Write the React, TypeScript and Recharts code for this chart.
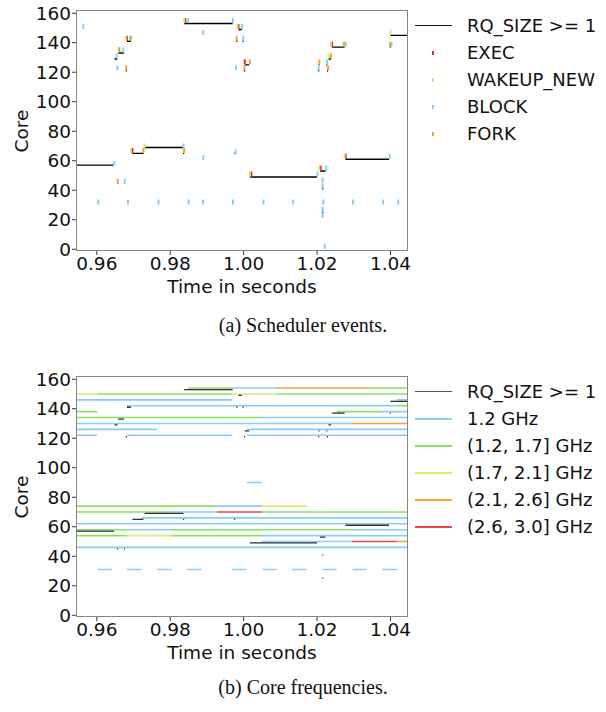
import { ComposedChart, Line, Scatter, XAxis, YAxis } from 'recharts';

// axis setup
const xDomain = [0.9546, 1.0445];
const yDomain = [-0.5, 161.5];
const xTicks = [0.96, 0.98, 1.0, 1.02, 1.04];
const yTicks = [0, 20, 40, 60, 80, 100, 120, 140, 160];

// RQ_SIZE >= 1 intervals: [start, end, core]
const rqSpans: [number, number, number][] = [
  [0.9546, 0.9647, 57], [0.9648, 0.9656, 129], [0.9658, 0.9674, 133], [0.9682, 0.9693, 141],
  [0.9697, 0.9727, 65], [0.973, 0.9836, 69], [0.9838, 0.997, 153], [0.9986, 0.9995, 149],
  [1.0003, 1.0015, 125], [1.0017, 1.02, 49], [1.0208, 1.0223, 53], [1.0231, 1.0238, 129],
  [1.0241, 1.0275, 137], [1.0277, 1.0396, 61], [1.04, 1.0445, 145],
  [0.9655, 0.9658, 45], [0.9674, 0.9677, 45], [0.9679, 0.9682, 121], [0.9974, 0.9977, 65],
  [0.998, 0.9983, 141], [0.9997, 1.0, 141], [1.0001, 1.0004, 121], [1.0204, 1.0207, 125],
  [1.0225, 1.0228, 125], [1.0203, 1.0206, 121], [1.0227, 1.023, 121], [1.0214, 1.0217, 41],
  [1.0398, 1.0401, 137], [0.9835, 0.9838, 65], [1.0214, 1.0217, 25],
];

// scheduler events: [time, core]
const execEvents: [number, number][] = [
  [0.9661, 135], [0.9682, 143], [0.9697, 67], [0.9841, 155], [0.9986, 151],
  [1.0003, 127], [1.0021, 51], [1.021, 55], [1.0241, 139], [1.0278, 63],
];
const wakeupEvents: [number, number][] = [
  [0.9659, 135], [0.9679, 143], [0.9693, 67], [0.973, 70], [0.9838, 155], [0.9983, 151],
  [1.0017, 51], [1.0206, 55], [1.0231, 131], [1.0238, 139], [1.0275, 63], [1.04, 147],
];
const blockEvents: [number, number][] = [
  [0.9563, 151], [0.9604, 32], [0.9685, 32], [0.9768, 32], [0.985, 32], [0.9889, 32],
  [0.9971, 32], [1.0054, 32], [1.0135, 32], [1.0217, 32], [1.0298, 32], [1.038, 32], [1.0421, 32],
  [0.9647, 58], [0.9654, 131], [0.9656, 123], [0.9672, 135], [0.9691, 143], [0.9676, 46],
  [0.9836, 70], [0.9848, 155], [0.9971, 155], [0.989, 147], [0.989, 62], [0.9979, 123],
  [0.9978, 66], [0.9996, 151], [0.9999, 143], [1.0227, 127], [1.0204, 123], [1.0278, 139],
  [1.0403, 139], [1.0201, 51], [1.0225, 55], [1.0215, 47], [1.0215, 43], [1.0215, 27],
  [1.0215, 23], [1.0221, 2], [1.0398, 63],
];
const forkEvents: [number, number][] = [
  [0.9693, 143], [0.968, 123], [0.9657, 46], [0.9727, 67], [0.9838, 67], [0.9981, 143],
  [1.0017, 127], [1.0002, 123], [1.0206, 127], [1.023, 123], [1.0238, 131], [1.0273, 139],
  [1.0399, 139],
];

// core frequency intervals: [start, end, core]
const freq12: [number, number, number][] = [
  [0.9968, 1.009, 154], [0.9546, 0.9968, 146], [1.0417, 1.0445, 146], [0.9682, 1.0417, 142],
  [1.0371, 1.0445, 138], [1.005, 1.0445, 134], [0.9546, 1.0295, 130], [0.9546, 0.9764, 126],
  [1.0009, 1.0445, 126], [0.9546, 0.9601, 122], [0.9682, 0.9968, 122], [1.0009, 1.0445, 122],
  [1.0009, 1.005, 90], [0.9927, 1.005, 74], [0.9805, 0.9927, 70], [0.9723, 1.0445, 66],
  [0.9546, 1.0445, 62], [0.9682, 0.9805, 58], [1.0298, 1.0445, 58], [1.005, 1.0445, 54],
  [1.005, 1.0295, 50], [0.9546, 1.0445, 46],
  [0.9603, 0.9641, 31], [0.9682, 0.9722, 31], [0.9763, 0.9804, 31], [0.9846, 0.9885, 31],
  [0.9969, 1.0008, 31], [1.0052, 1.009, 31], [1.0132, 1.0171, 31], [1.0215, 1.0253, 31],
  [1.0297, 1.0335, 31], [1.0378, 1.0418, 31],
];
const freq17: [number, number, number][] = [
  [0.9849, 0.9968, 154], [1.0336, 1.0445, 154], [0.9601, 0.9968, 150], [1.009, 1.0445, 150],
  [1.0417, 1.0445, 142], [0.9546, 0.9601, 138], [1.0254, 1.0371, 138], [0.9546, 1.005, 134],
  [0.9546, 0.9927, 74], [0.9546, 0.9805, 70], [1.005, 1.0445, 70], [0.9546, 0.9682, 58],
  [0.9805, 1.0298, 58], [0.9546, 0.9682, 54], [0.9805, 1.005, 54],
];
const freq21: [number, number, number][] = [
  [0.9546, 0.9601, 150], [0.9968, 1.009, 150], [1.005, 1.0172, 74], [0.9682, 0.9805, 54],
];
const freq26: [number, number, number][] = [
  [1.009, 1.0336, 154], [1.0295, 1.0445, 130], [1.0417, 1.0445, 50],
];
const freq30: [number, number, number][] = [
  [0.9927, 1.005, 70], [1.0295, 1.0417, 50],
];

const C = {
  rq: '#000000',
  rqDim: '#2a2f33',
  exec: '#e0282e',
  wakeup: '#d8e464',
  block: '#87cefa',
  fork: '#eea638',
  f12: '#87cefa',
  f17: '#8ae262',
  f21: '#e0ea6c',
  f26: '#eea638',
  f30: '#ee4646',
};

const FONT = 'DejaVu Sans, sans-serif';
const FS = 18.5;
const axisTick = { fontSize: FS, fill: '#111', fontFamily: FONT };

// spans -> one path with null breaks
const toPath = (spans: [number, number, number][]) =>
  spans.flatMap(([s, e, c]) => [{ x: s, y: c }, { x: e, y: c }, { x: e, y: null }]);
const toPoints = (ev: [number, number][]) => ev.map(([x, y]) => ({ x, y }));

const tick = (color: string) => (p: any) =>
  <rect x={p.cx - 1} y={p.cy - 2.5} width={2} height={5} fill={color} />;

const frame = (top: number) => (
  <div style={{
    position: 'absolute', left: 76, top: top - 1, width: 332, height: 241,
    border: '1.5px solid #858585', boxSizing: 'border-box', pointerEvents: 'none',
  }} />
);

const txt = (s: string, x: number, y: number, extra: any = {}) => (
  <div style={{
    position: 'absolute', left: x, top: y, transform: 'translate(-50%, -50%)',
    fontFamily: FONT, fontSize: FS, color: '#111', whiteSpace: 'nowrap', lineHeight: 1, ...extra,
  }}>{s}</div>
);

type LegendItem = { label: string; color: string; kind: 'line' | 'tick'; width?: number };

const legend = (items: LegendItem[], top: number) => (
  <div>
    {items.map((it, i) => {
      const y = top + i * 27;
      return (
        <div key={it.label}>
          {it.kind === 'line'
            ? <div style={{ position: 'absolute', left: 415, top: y - 1, width: 37, height: it.width ?? 1.5, background: it.color }} />
            : <div style={{ position: 'absolute', left: 432, top: y - 2, width: 2, height: 4, background: it.color }} />}
          <div style={{
            position: 'absolute', left: 467, top: y - 10, fontFamily: FONT, fontSize: 18,
            lineHeight: '20px', color: '#111', whiteSpace: 'nowrap',
          }}>{it.label}</div>
        </div>
      );
    })}
  </div>
);

const eventLegend: LegendItem[] = [
  { label: 'RQ_SIZE >= 1', color: '#1a1a1a', kind: 'line', width: 1.2 },
  { label: 'EXEC', color: C.exec, kind: 'tick' },
  { label: 'WAKEUP_NEW', color: C.wakeup, kind: 'tick' },
  { label: 'BLOCK', color: C.block, kind: 'tick' },
  { label: 'FORK', color: C.fork, kind: 'tick' },
];

const freqLegend: LegendItem[] = [
  { label: 'RQ_SIZE >= 1', color: '#555', kind: 'line', width: 1.2 },
  { label: '1.2 GHz', color: C.f12, kind: 'line' },
  { label: '(1.2, 1.7] GHz', color: C.f17, kind: 'line' },
  { label: '(1.7, 2.1] GHz', color: C.f21, kind: 'line' },
  { label: '(2.1, 2.6] GHz', color: C.f26, kind: 'line' },
  { label: '(2.6, 3.0] GHz', color: C.f30, kind: 'line' },
];

const chartMargin = { top: 11, right: 199, bottom: 20, left: 7 };

export default function App() {
  return (
    <div style={{ position: 'absolute', left: 0, top: 0, width: 606, height: 712, background: '#fff' }}>
      {/* (a) scheduler events */}
      <div style={{ position: 'absolute', left: 0, top: 0 }}>
        <ComposedChart width={606} height={300} margin={chartMargin}>
          <XAxis type="number" dataKey="x" domain={xDomain} allowDataOverflow ticks={xTicks}
            tickFormatter={(v: number) => v.toFixed(2)} tick={axisTick} tickSize={5} tickMargin={2}
            height={30} axisLine={false} tickLine={{ stroke: '#333' }} interval={0} />
          <YAxis type="number" dataKey="y" domain={yDomain} allowDataOverflow ticks={yTicks}
            tick={axisTick} tickSize={5} tickMargin={1} width={70} axisLine={false}
            tickLine={{ stroke: '#333' }} interval={0} />
          <Line data={toPath(rqSpans)} dataKey="y" stroke={C.rq} strokeWidth={1.4} dot={false}
            connectNulls={false} isAnimationActive={false} />
          <Scatter data={toPoints(execEvents)} fill={C.exec} shape={tick(C.exec)} isAnimationActive={false} />
          <Scatter data={toPoints(wakeupEvents)} fill={C.wakeup} shape={tick(C.wakeup)} isAnimationActive={false} />
          <Scatter data={toPoints(blockEvents)} fill={C.block} shape={tick(C.block)} isAnimationActive={false} />
          <Scatter data={toPoints(forkEvents)} fill={C.fork} shape={tick(C.fork)} isAnimationActive={false} />
        </ComposedChart>
      </div>
      {frame(11)}
      {legend(eventLegend, 26)}
      {txt('Core', 22, 131, { transform: 'translate(-50%, -50%) rotate(-90deg)' })}
      {txt('Time in seconds', 242, 287)}
      {txt('(a) Scheduler events.', 303, 325, { fontFamily: 'Liberation Serif, serif', fontSize: 20 })}

      {/* (b) core frequencies */}
      <div style={{ position: 'absolute', left: 0, top: 366 }}>
        <ComposedChart width={606} height={300} margin={chartMargin}>
          <XAxis type="number" dataKey="x" domain={xDomain} allowDataOverflow ticks={xTicks}
            tickFormatter={(v: number) => v.toFixed(2)} tick={axisTick} tickSize={5} tickMargin={2}
            height={30} axisLine={false} tickLine={{ stroke: '#333' }} interval={0} />
          <YAxis type="number" dataKey="y" domain={yDomain} allowDataOverflow ticks={yTicks}
            tick={axisTick} tickSize={5} tickMargin={1} width={70} axisLine={false}
            tickLine={{ stroke: '#333' }} interval={0} />
          <Line data={toPath(freq12)} dataKey="y" stroke={C.f12} strokeWidth={1.6} dot={false} connectNulls={false} isAnimationActive={false} />
          <Line data={toPath(freq17)} dataKey="y" stroke={C.f17} strokeWidth={1.6} dot={false} connectNulls={false} isAnimationActive={false} />
          <Line data={toPath(freq21)} dataKey="y" stroke={C.f21} strokeWidth={1.6} dot={false} connectNulls={false} isAnimationActive={false} />
          <Line data={toPath(freq26)} dataKey="y" stroke={C.f26} strokeWidth={1.6} dot={false} connectNulls={false} isAnimationActive={false} />
          <Line data={toPath(freq30)} dataKey="y" stroke={C.f30} strokeWidth={1.6} dot={false} connectNulls={false} isAnimationActive={false} />
          <Line data={toPath(rqSpans)} dataKey="y" stroke={C.rqDim} strokeWidth={1.3} dot={false}
            connectNulls={false} isAnimationActive={false} />
        </ComposedChart>
      </div>
      {frame(377)}
      {legend(freqLegend, 392)}
      {txt('Core', 22, 497, { transform: 'translate(-50%, -50%) rotate(-90deg)' })}
      {txt('Time in seconds', 242, 653)}
      {txt('(b) Core frequencies.', 303, 687, { fontFamily: 'Liberation Serif, serif', fontSize: 20 })}
    </div>
  );
}
